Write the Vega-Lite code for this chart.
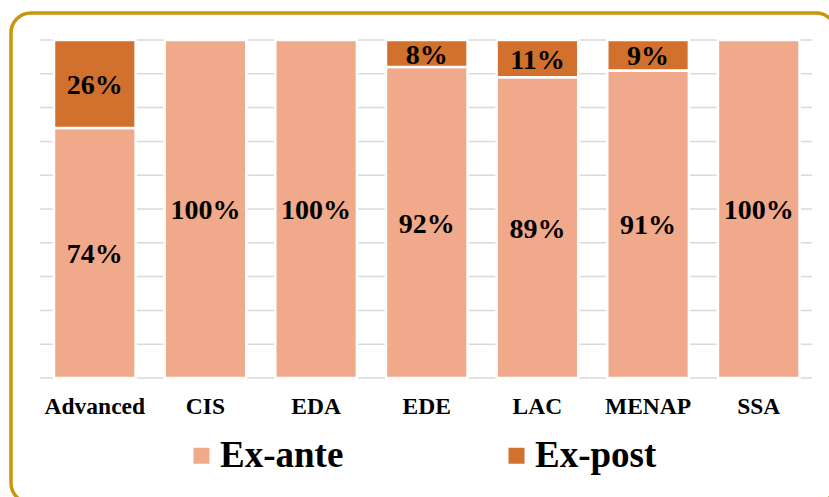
{
  "$schema": "https://vega.github.io/schema/vega-lite/v6.json",
  "autosize": {"type": "none"},
  "padding": {"left": 11, "top": 13, "right": 0, "bottom": 0},
  "width": 825,
  "height": 490,
  "background": "white",
  "config": {
    "view": {"stroke": "#C8960C", "strokeWidth": 3.5, "cornerRadius": 20},
    "font": "Liberation Serif"
  },
  "datasets": {
    "bars": [
      {"region": "Advanced", "type": "Ex-ante", "value": 74, "label": "74%"},
      {"region": "Advanced", "type": "Ex-post", "value": 26, "label": "26%"},
      {"region": "CIS", "type": "Ex-ante", "value": 100, "label": "100%"},
      {"region": "EDA", "type": "Ex-ante", "value": 100, "label": "100%"},
      {"region": "EDE", "type": "Ex-ante", "value": 92, "label": "92%"},
      {"region": "EDE", "type": "Ex-post", "value": 8, "label": "8%"},
      {"region": "LAC", "type": "Ex-ante", "value": 89, "label": "89%"},
      {"region": "LAC", "type": "Ex-post", "value": 11, "label": "11%"},
      {"region": "MENAP", "type": "Ex-ante", "value": 91, "label": "91%"},
      {"region": "MENAP", "type": "Ex-post", "value": 9, "label": "9%"},
      {"region": "SSA", "type": "Ex-ante", "value": 100, "label": "100%"}
    ],
    "grid": [
      {"g": 0}, {"g": 10}, {"g": 20}, {"g": 30}, {"g": 40}, {"g": 50},
      {"g": 60}, {"g": 70}, {"g": 80}, {"g": 90}, {"g": 100}
    ]
  },
  "layer": [
    {
      "data": {"name": "grid"},
      "mark": {"type": "rule", "color": "#D9D9D9", "strokeWidth": 1.5},
      "encoding": {
        "y": {
          "field": "g", "type": "quantitative",
          "scale": {"domain": [-36.98, 107.99], "nice": false, "zero": false},
          "axis": null
        },
        "x": {
          "datum": "Advanced", "type": "nominal", "bandPosition": -0.1716,
          "scale": {"domain": ["Advanced", "CIS", "EDA", "EDE", "LAC", "MENAP", "SSA"], "paddingInner": 0.2625, "paddingOuter": 0.359, "align": 0.541},
          "axis": {
            "title": null, "orient": "bottom", "offset": -125, "ticks": false, "domain": false,
            "bandPosition": 0.5, "grid": false,
            "labelAngle": 0, "labelFontSize": 23.5, "labelFontWeight": "bold", "labelColor": "black",
            "labelFont": "Liberation Serif", "labelPadding": 16
          }
        },
        "x2": {"datum": "SSA", "bandPosition": 1.153}
      }
    },
    {
      "data": {"name": "bars"},
      "mark": {"type": "bar", "stroke": "white", "strokeWidth": 2.5},
      "encoding": {
        "x": {
          "field": "region", "type": "nominal",
          "scale": {"domain": ["Advanced", "CIS", "EDA", "EDE", "LAC", "MENAP", "SSA"], "paddingInner": 0.2625, "paddingOuter": 0.359, "align": 0.541},
          "axis": {
            "title": null, "orient": "bottom", "offset": -125, "ticks": false, "domain": false,
            "bandPosition": 0.5, "grid": false,
            "labelAngle": 0, "labelFontSize": 23.5, "labelFontWeight": "bold", "labelColor": "black",
            "labelFont": "Liberation Serif", "labelPadding": 16
          }
        },
        "y": {
          "field": "value", "type": "quantitative", "stack": "zero",
          "scale": {"domain": [-36.98, 107.99], "nice": false, "zero": false},
          "axis": null
        },
        "color": {
          "field": "type", "type": "nominal",
          "scale": {"domain": ["Ex-ante", "Ex-post"], "range": ["#F0A98A", "#D2702E"]},
          "legend": {
            "title": null, "orient": "none", "direction": "horizontal",
            "legendX": 172, "legendY": 424, "padding": 0,
            "symbolType": "square", "symbolSize": 256, "symbolStrokeWidth": 0,
            "labelFontSize": 37, "labelFontWeight": "bold", "labelColor": "black",
            "labelFont": "Liberation Serif", "labelOffset": 0, "columnPadding": 154,
            "labelLimit": 400
          }
        },
        "order": {"field": "type", "sort": "ascending"}
      }
    },
    {
      "data": {"name": "bars"},
      "mark": {"type": "text", "fontSize": 28, "fontWeight": "bold", "font": "Liberation Serif", "color": "black", "baseline": "middle", "dy": 2},
      "encoding": {
        "x": {"field": "region", "type": "nominal"},
        "y": {"field": "value", "type": "quantitative", "stack": "zero", "bandPosition": 0.5},
        "detail": {"field": "type", "type": "nominal"},
        "order": {"field": "type", "sort": "ascending"},
        "text": {"field": "label", "type": "nominal"}
      }
    }
  ]
}
